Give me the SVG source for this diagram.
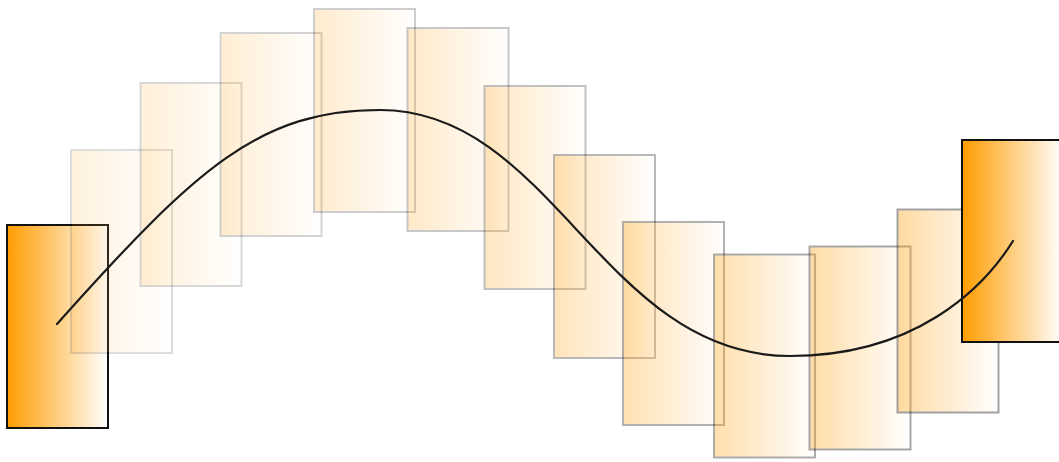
<svg xmlns="http://www.w3.org/2000/svg" width="1059" height="462" viewBox="0 0 1059 462">
<defs>
<linearGradient id="og" x1="0" y1="0" x2="1" y2="0">
<stop offset="0" stop-color="#ff9c00"/>
<stop offset="1" stop-color="#ffffff"/>
</linearGradient>
<style>
.solid{fill:url(#og);stroke:#111;stroke-width:2}
.ghost rect{fill:url(#og);stroke:#000;stroke-width:2}
.curve{fill:none;stroke:#1a1a1a;stroke-width:2.2;stroke-linecap:round}
</style>
</defs>
<rect width="1059" height="462" fill="#fff"/>
<g id="start"><rect class="solid" x="7" y="225" width="101" height="203"/></g>
<g class="ghost">
<g id="g1" opacity="0.13"><rect x="71" y="150" width="101" height="203"/></g>
<g id="g2" opacity="0.15"><rect x="140.5" y="83" width="101" height="203"/></g>
<g id="g3" opacity="0.17"><rect x="220.5" y="33" width="101" height="203"/></g>
<g id="g4" opacity="0.19"><rect x="314" y="9" width="101" height="203"/></g>
<g id="g5" opacity="0.21"><rect x="407.5" y="28" width="101" height="203"/></g>
<g id="g6" opacity="0.24"><rect x="484.5" y="86" width="101" height="203"/></g>
<g id="g7" opacity="0.27"><rect x="554" y="155" width="101" height="203"/></g>
<g id="g8" opacity="0.3"><rect x="623" y="222" width="101" height="203"/></g>
<g id="g9" opacity="0.32"><rect x="714" y="254.5" width="101" height="203"/></g>
<g id="g10" opacity="0.34"><rect x="809.5" y="246.5" width="101" height="203"/></g>
<g id="g11" opacity="0.36"><rect x="897.5" y="209.5" width="101" height="203"/></g>
</g>
<g id="end"><rect class="solid" x="962" y="140" width="101" height="202"/></g>
<g id="connectors">
<path class="curve" d="M57,324 C197,167.2 260,110 380,110 C553,110 603,356 790,356 C915,356 983,289 1013,241"/>
</g>
</svg>
